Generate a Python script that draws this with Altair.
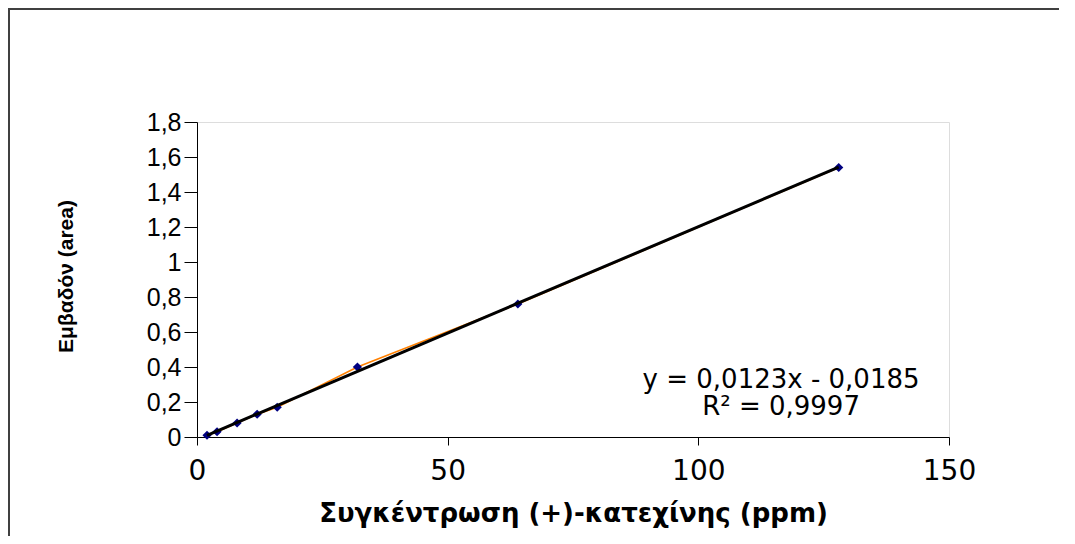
import altair as alt
import pandas as pd

conc = [2, 4, 8, 12, 16, 32, 64, 128]
area = [0.01, 0.03, 0.08, 0.13, 0.17, 0.40, 0.76, 1.54]
y_ticks = [0, 0.2, 0.4, 0.6, 0.8, 1.0, 1.2, 1.4, 1.6, 1.8]
x_ticks = [0, 50, 100, 150]
eq_text = ["y = 0,0123x - 0,0185", "R² = 0,9997"]
eq_x = [116.5, 116.5]
eq_y = [0.326, 0.171]

df = pd.DataFrame({"x": conc, "y": area})
ann = pd.DataFrame({"t": eq_text, "x": eq_x, "y": eq_y})

W, H = 752, 315
PL, PT, PR, PB = 189, 114, 110, 99

xscale = alt.Scale(domain=[0, 150], nice=False, zero=True)
yscale = alt.Scale(domain=[0, 1.8], nice=False, zero=True)

xaxis = alt.Axis(
    values=x_ticks, tickCount=len(x_ticks), title="Συγκέντρωση (+)-κατεχίνης (ppm)", grid=False,
    labelFont="DejaVu Sans", labelFontSize=28, labelColor="black", labelPadding=12,
    labelFlush=False, labelOverlap=False,
    tickSize=8, tickColor="black", domainColor="black",
    titleFont="DejaVu Sans", titleFontSize=26, titleFontWeight="bold", titleColor="black",
    titlePadding=15,
)
yaxis = alt.Axis(
    values=y_ticks, tickCount=len(y_ticks), title="Εμβαδόν (area)", grid=False,
    labelExpr="datum.value == 0 ? '0' : abs(datum.value - 1) < 1e-9 ? '1' : replace(format(datum.value, '.1f'), '.', ',')",
    labelFont="Liberation Sans", labelFontSize=25, labelColor="black", labelPadding=3,
    labelFlush=False, labelOverlap=False,
    tickSize=13, tickColor="black", domainColor="black",
    titleFont="Liberation Sans", titleFontSize=21, titleFontWeight="bold", titleColor="black",
    titlePadding=70, titleY=154,
)

base = alt.Chart(df)

line = base.mark_line(color="#FF8000", strokeWidth=1.5).encode(
    x=alt.X("x:Q", scale=xscale, axis=xaxis),
    y=alt.Y("y:Q", scale=yscale, axis=yaxis),
)
pts = base.mark_point(shape="diamond", filled=True, color="#000080", size=85, opacity=1).encode(
    x=alt.X("x:Q", scale=xscale),
    y=alt.Y("y:Q", scale=yscale),
)
trend = base.transform_regression("x", "y", method="linear").mark_line(
    color="black", strokeWidth=3
).encode(
    x=alt.X("x:Q", scale=xscale),
    y=alt.Y("y:Q", scale=yscale),
)
text = alt.Chart(ann).mark_text(
    font="DejaVu Sans", fontSize=26, color="black", align="center", baseline="middle"
).encode(
    x=alt.X("x:Q", scale=xscale),
    y=alt.Y("y:Q", scale=yscale),
    text="t:N",
)

frame_top = alt.Chart(df).mark_rule(color="#404040", strokeWidth=2).encode(
    x=alt.value(-PL - 10), x2=alt.value(W + PR + 30), y=alt.value(-PT + 1)
)
frame_left = alt.Chart(df).mark_rule(color="#404040", strokeWidth=2).encode(
    x=alt.value(-PL + 1), y=alt.value(-PT - 10), y2=alt.value(H + PB + 30)
)

chart = alt.layer(line, pts, trend, text, frame_top, frame_left).properties(
    width=W, height=H,
    padding={"left": PL, "top": PT, "right": PR, "bottom": PB},
    autosize=alt.AutoSizeParams(type="none"),
).configure_view(stroke="#808080", strokeWidth=2).configure(background="white")

chart.save("out.html", embed_options={"renderer": "svg", "actions": False})
